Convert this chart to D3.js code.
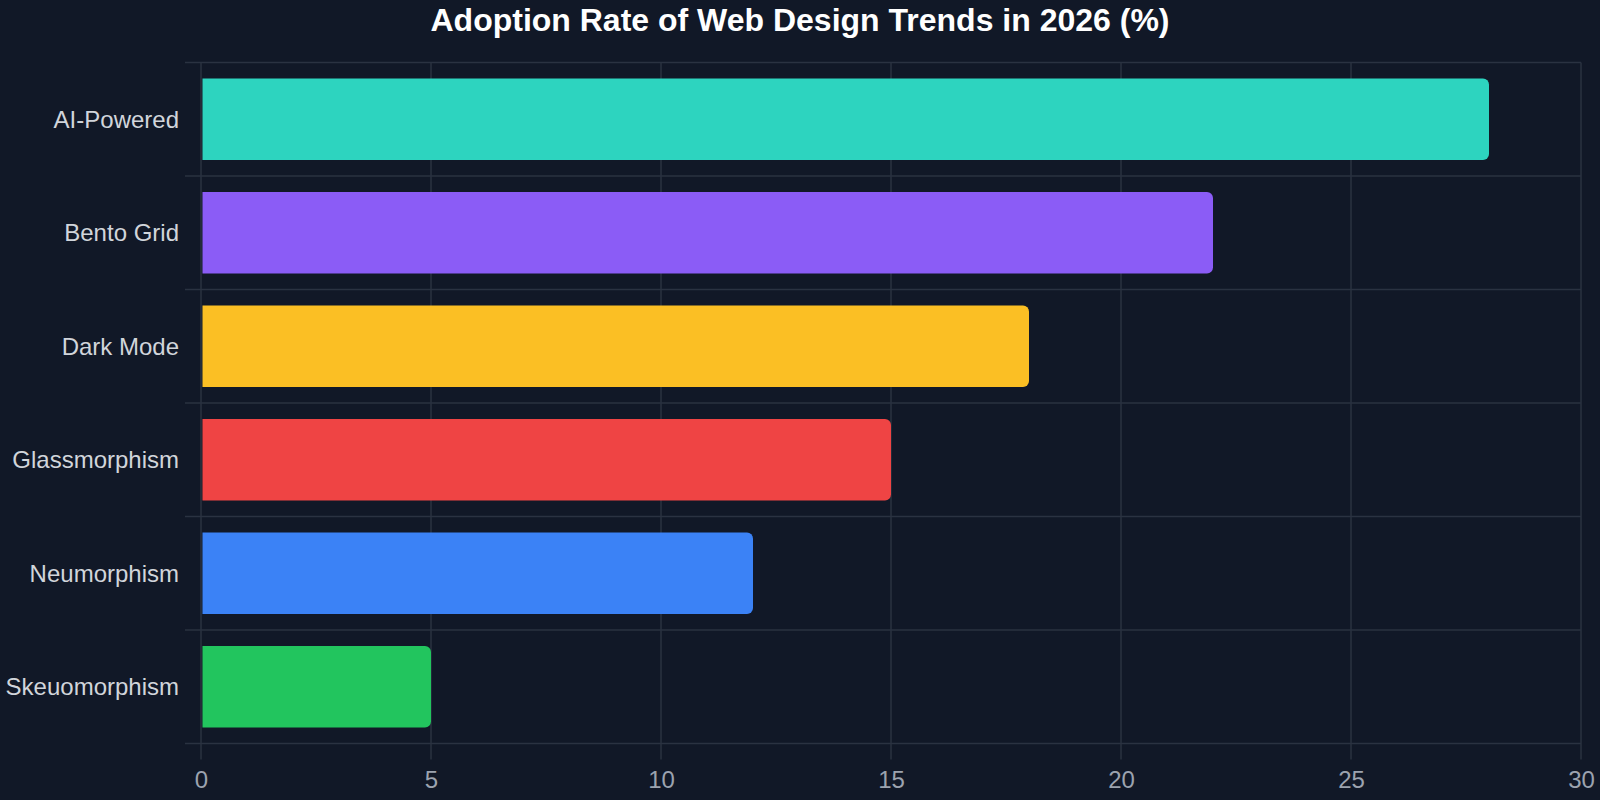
<!DOCTYPE html>
<html>
<head>
<meta charset="utf-8">
<script src="https://cdn.jsdelivr.net/npm/d3@7"></script>
<style>
  html, body { margin: 0; padding: 0; background: #111827; }
  svg { display: block; }
</style>
</head>
<body>
<svg id="chart" width="1600" height="800"></svg>
<script>
// chart data
var categories = ["AI-Powered", "Bento Grid", "Dark Mode", "Glassmorphism", "Neumorphism", "Skeuomorphism"];
var values = [28, 22, 18, 15, 12, 5];
var barColors = ["#2dd4bf", "#8b5cf6", "#fbbf24", "#ef4444", "#3b82f6", "#22c55e"];
var xTicks = [0, 5, 10, 15, 20, 25, 30];
var title = "Adoption Rate of Web Design Trends in 2026 (%)";

var margin = { top: 62.5, right: 19, bottom: 56.5, left: 201 },
  width = 1600 - margin.left - margin.right,
  height = 800 - margin.top - margin.bottom;

var svg = d3.select("#chart");

svg.append("rect").attr("width", 1600).attr("height", 800).attr("fill", "#111827");

svg.append("text")
  .attr("x", 800)
  .attr("y", 31)
  .attr("text-anchor", "middle")
  .attr("fill", "#ffffff")
  .style("font-family", "Liberation Sans, Arial, sans-serif")
  .style("font-size", "32px")
  .style("font-weight", "bold")
  .text(title);

var g = svg.append("g").attr("transform", "translate(" + margin.left + "," + margin.top + ")");

var x = d3.scaleLinear().domain([0, 30]).range([0, width]);
var y = d3.scaleBand().domain(categories).range([0, height]).paddingInner(0.28).paddingOuter(0.14);

var gridColor = "#2a3241";

// vertical grid lines (with tick extending below)
g.selectAll(".vgrid").data(xTicks).enter().append("line")
  .attr("x1", function(d) { return x(d); })
  .attr("x2", function(d) { return x(d); })
  .attr("y1", 0)
  .attr("y2", height + 16)
  .attr("stroke", gridColor)
  .attr("stroke-width", 1.5);

// horizontal grid lines at band boundaries (with tick extending left)
var step = y.step();
var boundaries = d3.range(categories.length + 1).map(function(i) { return i * height / categories.length; });
g.selectAll(".hgrid").data(boundaries).enter().append("line")
  .attr("x1", -16)
  .attr("x2", width)
  .attr("y1", function(d) { return d; })
  .attr("y2", function(d) { return d; })
  .attr("stroke", gridColor)
  .attr("stroke-width", 1.5);

// bars, rounded on the right end only
function barPath(d, i) {
  var x0 = x(0) + 1.5, x1 = x(values[i]);
  var bh = y.bandwidth();
  var y0 = y(d) + (height / categories.length - step) / 2;
  var r = 6;
  var path = d3.path();
  path.moveTo(x0, y0);
  path.lineTo(x1 - r, y0);
  path.arcTo(x1, y0, x1, y0 + r, r);
  path.lineTo(x1, y0 + bh - r);
  path.arcTo(x1, y0 + bh, x1 - r, y0 + bh, r);
  path.lineTo(x0, y0 + bh);
  path.closePath();
  return path.toString();
}

g.selectAll(".bar").data(categories).enter().append("path")
  .attr("class", "bar")
  .attr("d", barPath)
  .attr("fill", function(d, i) { return barColors[i]; });

// category labels
var yAxis = g.append("g").call(d3.axisLeft(y).tickSize(0).tickPadding(22));
yAxis.select(".domain").remove();
yAxis.selectAll("text")
  .attr("dy", "0.36em")
  .attr("fill", "#d1d5db")
  .style("font-family", "Liberation Sans, Arial, sans-serif")
  .style("font-size", "24px");

// x tick labels
var xAxis = g.append("g").attr("transform", "translate(0," + height + ")")
  .call(d3.axisBottom(x).tickValues(xTicks).tickSize(0).tickPadding(27));
xAxis.select(".domain").remove();
xAxis.selectAll("text")
  .attr("fill", "#9ca3af")
  .style("font-family", "Liberation Sans, Arial, sans-serif")
  .style("font-size", "24px");
</script>
</body>
</html>
